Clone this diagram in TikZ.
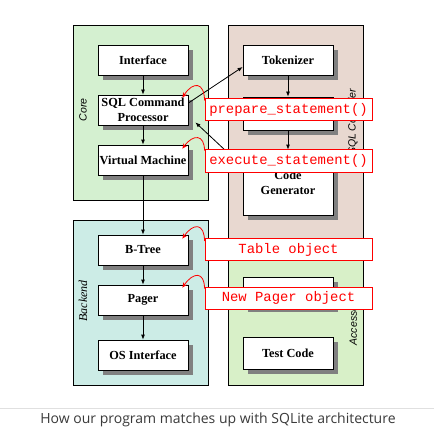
\documentclass[tikz,border=0pt]{standalone}
\usepackage{fontspec}
\setmainfont{Liberation Serif}
\setsansfont{Liberation Sans}
\setmonofont{Liberation Mono}
\newfontfamily\capfont{Open Sans}
\usetikzlibrary{arrows.meta,shadows,calc}
\definecolor{coreg}{RGB}{212,240,208}
\definecolor{backg}{RGB}{204,236,230}
\definecolor{compg}{RGB}{232,216,208}
\definecolor{accg}{RGB}{216,240,200}
\definecolor{shadg}{RGB}{128,128,128}
\definecolor{capc}{RGB}{58,58,58}
\definecolor{sepc}{RGB}{224,224,224}
\tikzset{
  container/.style={draw=black, line width=0.8pt},
  comp/.style={draw=black, fill=white, line width=0.8pt, minimum width=90pt, minimum height=30pt,
    inner sep=0pt, align=center, font=\bfseries\fontsize{12.3}{15}\selectfont,
    general shadow={fill=shadg, shadow xshift=5pt, shadow yshift=-5pt}},
  arr/.style={draw=black, line width=0.8pt, -{Latex[length=5pt,width=4pt]}},
  redlab/.style={draw=red, fill=white, line width=1pt, text=red, minimum width=167pt,
    minimum height=22pt, inner sep=0pt, font=\ttfamily\fontsize{13.9}{14}\selectfont},
  redarr/.style={draw=red, line width=0.8pt, -{Stealth[length=5pt,width=4.5pt]}},
  grplab/.style={rotate=90, font=\sffamily\itshape\fontsize{10.5}{12}\selectfont}
}
\begin{document}
\begin{tikzpicture}[x=1pt,y=-1pt]
\useasboundingbox (0,0) rectangle (434,441);
\fill[white] (0,0) rectangle (434,441);
% containers
\draw[container, fill=coreg] (73,25) rectangle (208,200);
\draw[container, fill=backg] (73,220) rectangle (208,385);
\draw[container, fill=compg] (228,25) rectangle (363,250);
\draw[container, fill=accg] (228,250) rectangle (363,385);
\node[grplab] (lcore) at (83,110) {Core};
\node[rotate=90, font=\rmfamily\itshape\fontsize{12}{12}\selectfont] (lback) at (83,301) {Backend};
\node[grplab] (lcomp) at (353,122) {SQL Compiler};
\node[grplab] (lacc) at (353,317) {Accessories};
% components
\node[comp] (iface) at (143,60) {Interface};
\node[comp] (sqlp) at (143,110) {SQL Command\\Processor};
\node[comp] (vm) at (143,160) {Virtual Machine};
\node[comp] (btree) at (143,250) {B-Tree};
\node[comp] (pager) at (143,300) {Pager};
\node[comp] (osif) at (143,355) {OS Interface};
\node[comp] (tok) at (288,60) {Tokenizer};
\node[comp, minimum height=33pt] (parser) at (288,113.5) {};
\node[comp, minimum height=65pt] (codegen) at (288,182.5) {Code\\Generator};
\node[comp] (util) at (288,292) {};
\node[comp, minimum height=32pt] (test) at (288,353) {Test Code};
% black arrows
\draw[arr] (iface) -- (sqlp);
\draw[arr] (sqlp) -- (vm);
\draw[arr] (vm) -- (btree);
\draw[arr] (btree) -- (pager);
\draw[arr] (pager) -- (osif);
\draw[arr] (tok) -- (parser);
\draw[arr] (parser) -- (codegen);
\draw[arr] ([yshift=7pt]sqlp.east) -- ([yshift=-7pt]tok.west);
\draw[arr] ([yshift=16pt]codegen.west) -- ([xshift=7pt,yshift=3pt]sqlp.south east);
% red labels
\node[redlab, minimum height=21pt] (prep) at (288.5,109.5) {prepare\_statement()};
\node[redlab, minimum height=23pt] (exec) at (288.5,160.5) {execute\_statement()};
\node[redlab] (table) at (288.5,249.5) {Table object};
\node[redlab] (newp) at (288.5,298) {New Pager object};
% red curved arrows
\draw[redarr] ([yshift=-2pt]prep.north west) .. controls +(0,-18) and +(11,-17) .. ([xshift=-6pt,yshift=-3pt]sqlp.north east);
\draw[redarr] ([yshift=-2pt]exec.north west) .. controls +(0,-16) and +(11,-15) .. ([xshift=-6pt,yshift=-4pt]vm.north east);
\draw[redarr] ([yshift=-3pt]table.north west) .. controls +(0,-18) and +(11,-16) .. ([xshift=-6pt,yshift=-4pt]btree.north east);
\draw[redarr] ([yshift=-2pt]newp.north west) .. controls +(0,-17) and +(11,-16) .. ([xshift=-6pt,yshift=-3pt]pager.north east);
% caption
\draw[sepc, line width=1pt] (0,408) -- (434,408);
\node[font=\capfont\fontsize{14}{16}\selectfont, text=capc] (cap) at (218,420) {How our program matches up with SQLite architecture};
\end{tikzpicture}
\end{document}
